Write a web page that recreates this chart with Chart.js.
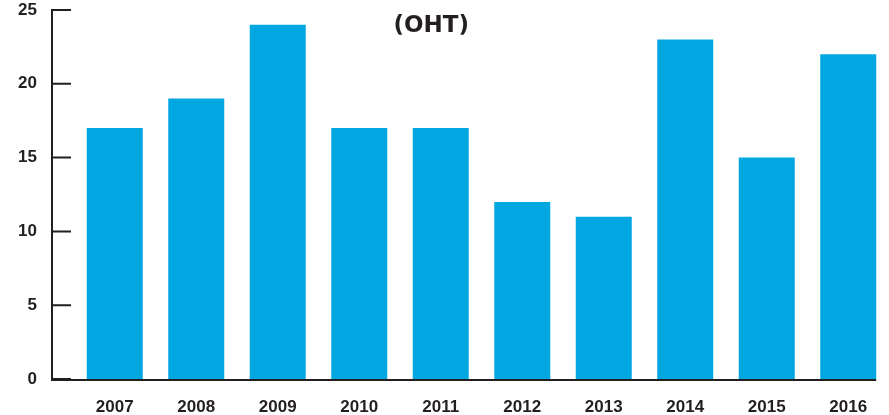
<!DOCTYPE html>
<html>
<head>
<meta charset="utf-8">
<script src="https://cdn.jsdelivr.net/npm/chart.js@4.4.1/dist/chart.umd.min.js"></script>
<style>
    html, body { margin: 0; padding: 0; background: #fff; }
    #wrap { width: 889px; height: 415px; }
</style>
</head>
<body>
<div id="wrap"><canvas id="oht-chart"></canvas></div>
<script>
    // yearly counts
    const years = ['2007', '2008', '2009', '2010', '2011', '2012', '2013', '2014', '2015', '2016'];
    const counts = [17, 19, 24, 17, 17, 12, 11, 23, 15, 22];
    const y_ticks = [0, 5, 10, 15, 20, 25];
    const chart_title = '(OHT)';

    const ink = '#231f20';
    const bar_blue = '#00a7e1';

    // axis lines sit a bit left of the plot area, with inward tick marks
    const axis_plugin = {
        id: 'axisLines',
        afterDraw(chart) {
            const ctx = chart.ctx;
            const y = chart.scales.y;
            const area = chart.chartArea;
            const axis_x = area.left - 22;
            const bars = chart.getDatasetMeta(0).data;
            const last = bars[bars.length - 1];
            const right_end = last.x + last.width / 2;
            const y0 = y.getPixelForValue(0);

            ctx.save();
            ctx.strokeStyle = ink;
            ctx.lineWidth = 2;
            ctx.beginPath();
            ctx.moveTo(axis_x, y.getPixelForValue(y_ticks[y_ticks.length - 1]) - 1);
            ctx.lineTo(axis_x, y0 + 1);
            ctx.lineTo(right_end, y0 + 1);
            y_ticks.forEach(v => {
                const py = y.getPixelForValue(v);
                ctx.moveTo(axis_x, py);
                ctx.lineTo(axis_x + 19, py);
            });
            ctx.stroke();

            // title inside the plot
            ctx.fillStyle = ink;
            ctx.font = 'bold 23px "DejaVu Sans"';
            ctx.textAlign = 'center';
            ctx.textBaseline = 'alphabetic';
            ctx.fillText(chart_title, chart.width * 0.485, 32);
            ctx.restore();
        }
    };

    new Chart(document.getElementById('oht-chart'), {
        type: 'bar',
        data: {
            labels: years,
            datasets: [{
                data: counts,
                backgroundColor: bar_blue,
                borderWidth: 0,
                barPercentage: 0.687,
                categoryPercentage: 1.0
            }]
        },
        options: {
            responsive: true,
            maintainAspectRatio: false,
            animation: false,
            layout: { padding: { top: 10, right: 0, left: 0, bottom: 0 } },
            plugins: {
                legend: { display: false },
                title: { display: false },
                tooltip: { enabled: false }
            },
            scales: {
                x: {
                    grid: { display: false, drawTicks: false },
                    border: { display: false },
                    ticks: {
                        color: ink,
                        padding: 18,
                        font: { family: '"Liberation Sans", Arial, sans-serif', size: 17, weight: 'bold' }
                    },
                    afterFit(scale) {
                        scale.height = 36;
                        scale.paddingLeft = 0;
                        scale.paddingRight = 0;
                    }
                },
                y: {
                    min: 0,
                    max: 25,
                    grid: { display: false, drawTicks: false },
                    border: { display: false },
                    ticks: {
                        stepSize: 5,
                        color: ink,
                        padding: 37,
                        font: { family: '"Liberation Sans", Arial, sans-serif', size: 17, weight: 'bold' }
                    },
                    afterFit(scale) {
                        // keep the label gap from pushing the plot top/bottom
                        scale.width = 74;
                        scale.paddingTop = 0;
                        scale.paddingBottom = 0;
                    }
                }
            }
        },
        plugins: [axis_plugin]
    });
</script>
</body>
</html>
